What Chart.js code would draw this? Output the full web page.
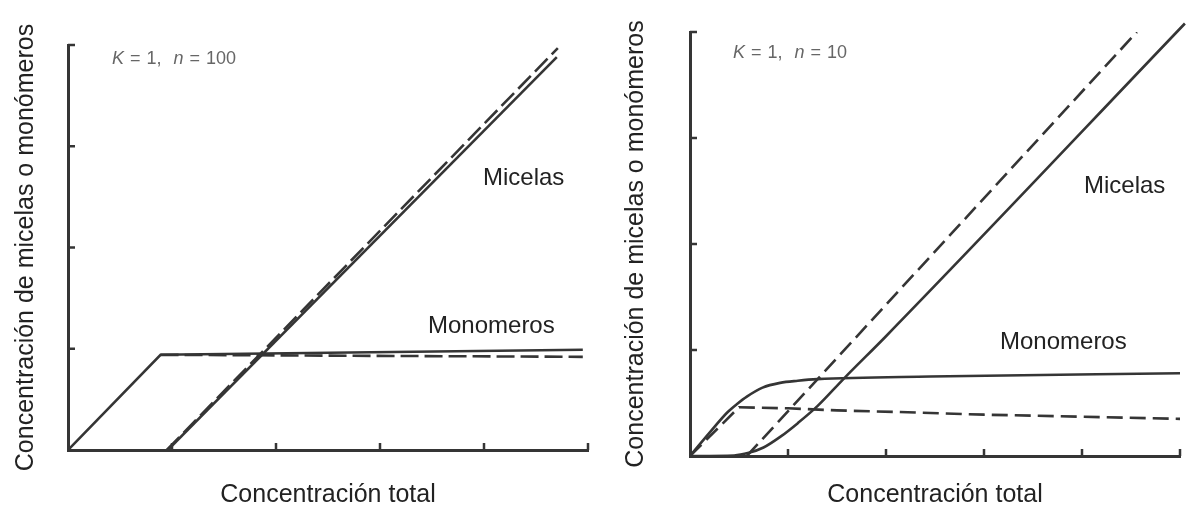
<!DOCTYPE html>
<html>
<head>
<meta charset="utf-8">
<script src="https://cdn.jsdelivr.net/npm/chart.js@4"></script>
<style>
  html, body { margin: 0; padding: 0; background: #fff; overflow: hidden; }
  #wrap { position: relative; width: 1186px; height: 508px; }
  .panel { position: absolute; top: 0; width: 593px; height: 508px; }
  .lbl { position: absolute; font-family: 'Liberation Sans', Arial, sans-serif; font-size: 24px; line-height: 1; color: #222; white-space: nowrap; }
  .par { position: absolute; font-family: 'Liberation Sans', Arial, sans-serif; font-size: 18px; line-height: 1; color: #666; white-space: nowrap; word-spacing: 1px; }
</style>
</head>
<body>
<div id="wrap">
  <div class="panel" style="left:0"><canvas id="leftChart"></canvas></div>
  <div class="panel" style="left:593px"><canvas id="rightChart"></canvas></div>

  <div class="par" style="left:112px;top:49px"><i>K</i> = 1,&nbsp; <i>n</i> = 100</div>
  <div class="lbl" style="left:483px;top:165px">Micelas</div>
  <div class="lbl" style="left:428px;top:313px">Monomeros</div>

  <div class="par" style="left:733px;top:43px"><i>K</i> = 1,&nbsp; <i>n</i> = 10</div>
  <div class="lbl" style="left:1084px;top:173px">Micelas</div>
  <div class="lbl" style="left:1000px;top:329px">Monomeros</div>
</div>
<script>
// left panel: K = 1, n = 100
const leftMonoX = [0, 0.89, 4.95]
const leftMonoY = [0, 0.94, 0.99]
const leftMonoDashX = [0.89, 4.95]
const leftMonoDashY = [0.94, 0.92]
const leftMicX = [0.96, 4.70]
const leftMicY = [0, 3.88]
const leftMicDashX = [0.95, 4.71]
const leftMicDashY = [0, 3.97]

// right panel: K = 1, n = 10
const rightMonoX = [0, 0.20, 0.38, 0.48, 0.58, 0.74, 0.92, 1.10, 1.30, 2.45, 5.0]
const rightMonoY = [0, 0.22, 0.41, 0.49, 0.56, 0.645, 0.69, 0.71, 0.725, 0.75, 0.78]
const rightMonoDashX = [0, 0.50, 1.0, 1.5, 2.14, 3.0, 4.0, 5.0]
const rightMonoDashY = [0, 0.46, 0.45, 0.43, 0.415, 0.39, 0.37, 0.35]
const rightMicX = [0, 0.45, 0.60, 0.75, 0.92, 1.10, 1.30, 1.58, 2.00, 5.05]
const rightMicY = [0, 0.005, 0.03, 0.08, 0.18, 0.31, 0.47, 0.74, 1.13, 4.08]
const rightMicDashX = [0.58, 4.56]
const rightMicDashY = [0, 4.0]

const xTicks = [0, 1, 2, 3, 4, 5]
const yTicks = [0, 1, 2, 3, 4]

const ink = '#353535'
const font = "'Liberation Sans', Arial, sans-serif"

function pts(xs, ys) {
    return xs.map((x, i) => ({ x: x, y: ys[i] }))
}

function line(xs, ys, dash, smooth, noClip) {
    return {
        data: pts(xs, ys),
        borderColor: ink,
        borderWidth: 2.6,
        borderDash: dash || [],
        pointRadius: 0,
        fill: false,
        tension: 0,
        cubicInterpolationMode: smooth ? 'monotone' : 'default',
        clip: noClip ? false : undefined,
    }
}

// tick marks point into the plot, like the printed figure
const innerTicks = {
    id: 'innerTicks',
    afterDraw(chart) {
        const { ctx, chartArea, scales: { x, y } } = chart
        ctx.save()
        ctx.strokeStyle = ink
        ctx.lineWidth = 2.5
        ctx.beginPath()
        xTicks.slice(1).forEach(v => {
            const px = x.getPixelForValue(v)
            ctx.moveTo(px, chartArea.bottom)
            ctx.lineTo(px, chartArea.bottom - 7)
        })
        yTicks.slice(1).forEach(v => {
            const py = y.getPixelForValue(v)
            ctx.moveTo(chartArea.left, py)
            ctx.lineTo(chartArea.left + 7, py)
        })
        ctx.stroke()
        ctx.restore()
    }
}

function makeChart(id, datasets, pad, xTitlePad, yTitlePad) {
    return new Chart(document.getElementById(id).getContext('2d'), {
        type: 'line',
        data: { datasets: datasets },
        options: {
            responsive: true,
            maintainAspectRatio: false,
            animation: false,
            layout: { padding: pad },
            plugins: { legend: { display: false }, tooltip: { enabled: false } },
            scales: {
                x: {
                    type: 'linear', min: 0, max: 5,
                    grid: { display: false, drawTicks: false },
                    border: { display: true, color: ink, width: 3 },
                    ticks: { display: false, stepSize: 1 },
                    title: { display: true, text: 'Concentración total', color: '#222',
                        font: { family: font, size: 25, lineHeight: 1 }, padding: xTitlePad }
                },
                y: {
                    type: 'linear', min: 0, max: 4,
                    grid: { display: false, drawTicks: false },
                    border: { display: true, color: ink, width: 3 },
                    ticks: { display: false, stepSize: 1 },
                    title: { display: true, text: 'Concentración de micelas o monómeros', color: '#222',
                        font: { family: font, size: 25, lineHeight: 1 }, padding: yTitlePad }
                }
            }
        },
        plugins: [innerTicks]
    })
}

makeChart('leftChart', [
    line(leftMonoX, leftMonoY),
    line(leftMonoDashX, leftMonoDashY, [18, 6]),
    line(leftMicX, leftMicY),
    line(leftMicDashX, leftMicDashY, [18, 6]),
], { top: 45, right: 5, left: 0, bottom: 0 }, { top: 33, bottom: 0 }, { top: 14, bottom: 29 })

makeChart('rightChart', [
    line(rightMonoX, rightMonoY, null, true),
    line(rightMonoDashX, rightMonoDashY, [16, 7]),
    line(rightMicX, rightMicY, null, true, true),
    line(rightMicDashX, rightMicDashY, [16, 7]),
], { top: 32, right: 6, left: 0, bottom: 0 }, { top: 27, bottom: 0 }, { top: 31, bottom: 41 })
</script>
</body>
</html>
